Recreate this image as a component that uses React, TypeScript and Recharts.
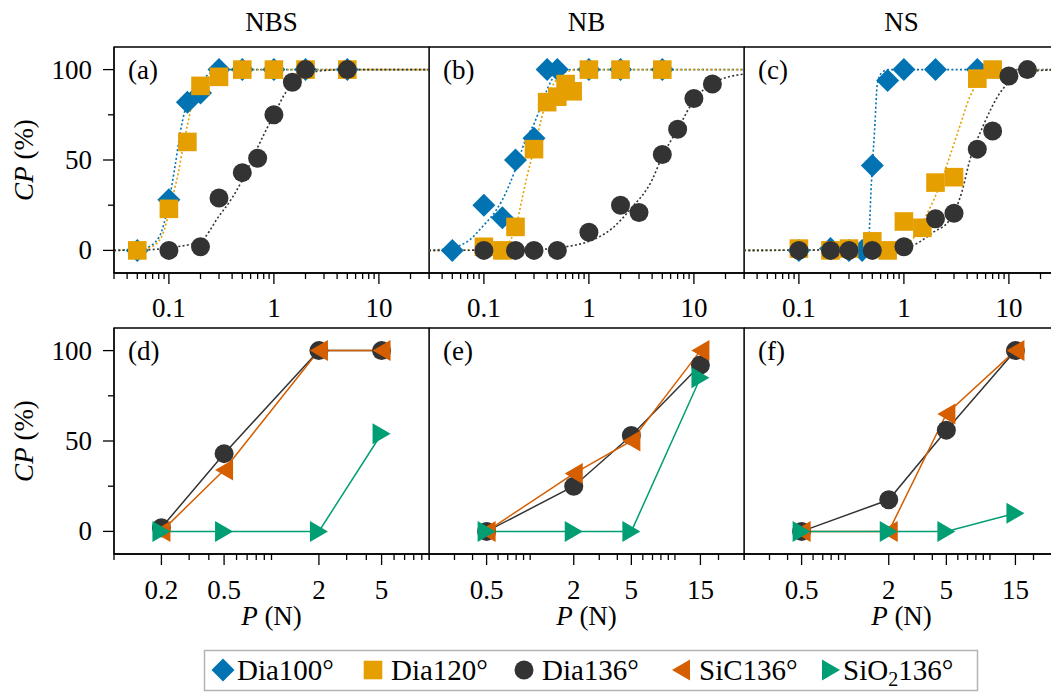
import React from 'react';
import { ComposedChart, Line, Scatter, XAxis, YAxis, ReferenceArea } from 'recharts';

const FONT = '"Liberation Serif", "Times New Roman", Times, serif';
const BLUE = '#0173b2';
const ORANGE = '#e69f00';
const DARK = '#333333';
const VERMIL = '#d55e00';
const TEAL = '#029e73';

// (a) NBS, top row
const nbsDia100P = [0.05, 0.1, 0.15, 0.2, 0.3, 0.5, 1, 2, 5];
const nbsDia100CP = [0, 28, 82, 87, 100, 100, 100, 100, 100];
const nbsDia120P = [0.05, 0.1, 0.15, 0.2, 0.3, 0.5, 1, 2, 5];
const nbsDia120CP = [0, 23, 60, 91, 96, 100, 100, 100, 100];
const nbsDia136P = [0.1, 0.2, 0.3, 0.5, 0.7, 1, 1.5, 2, 5];
const nbsDia136CP = [0, 2, 29, 43, 51, 75, 93, 100, 100];
const nbsFit100P = [0.03, 0.06, 0.08, 0.09, 0.1, 0.114, 0.128, 0.143, 0.16, 0.184, 0.21, 0.246, 0.35, 30];
const nbsFit100CP = [0, 1.5, 7, 15, 27, 46, 65, 78, 85, 90, 94, 98, 100, 100];
const nbsFit120P = [0.03, 0.06, 0.08, 0.09, 0.1, 0.11, 0.123, 0.137, 0.15, 0.171, 0.2, 0.229, 0.31, 0.5, 30];
const nbsFit120CP = [0, 1, 5, 11, 21, 31, 43, 58, 69, 84, 91, 95, 99, 100, 100];
const nbsFit136P = [0.03, 0.07, 0.1, 0.15, 0.2, 0.3, 0.4, 0.5, 0.7, 0.85, 1, 1.32, 1.6, 2, 3, 5, 30];
const nbsFit136CP = [0, 0.5, 1.5, 3, 5, 19, 29, 39, 57, 67, 75, 88, 93, 97, 99.5, 100, 100];

// (b) NB, top row
const nbDia100P = [0.05, 0.1, 0.15, 0.2, 0.3, 0.4, 0.5, 1, 2, 5];
const nbDia100CP = [0, 25, 18, 50, 62, 100, 100, 100, 100, 100];
const nbDia120P = [0.1, 0.15, 0.2, 0.3, 0.4, 0.5, 0.6, 0.7, 1, 2, 5];
const nbDia120CP = [2, 0, 13, 56, 82, 85, 92, 88, 100, 100, 100];
const nbDia136P = [0.1, 0.2, 0.3, 0.5, 1, 2, 3, 5, 7, 10, 15];
const nbDia136CP = [0, 0, 0, 0, 10, 25, 21, 53, 67, 84, 92];
const nbFit100P = [0.03, 0.05, 0.07, 0.1, 0.13, 0.15, 0.2, 0.245, 0.3, 0.355, 0.4, 0.45, 0.55, 0.7, 30];
const nbFit100CP = [0, 1.5, 5, 14, 22, 28, 45, 60, 70, 81, 89, 95, 99, 100, 100];
const nbFit120P = [0.03, 0.1, 0.15, 0.18, 0.2, 0.23, 0.26, 0.3, 0.35, 0.4, 0.5, 0.6, 0.8, 30];
const nbFit120CP = [0, 0.3, 2, 6, 12, 28, 42, 56, 72, 84, 95, 98.5, 100, 100];
const nbFit136P = [0.03, 0.3, 0.6, 1, 1.65, 2.5, 4, 5, 7, 10, 15, 20, 30];
const nbFit136CP = [0, 0.5, 2, 5, 12, 23, 39, 52, 67, 83, 92.5, 95.5, 97.5];

// (c) NS, top row
const nsDia100P = [0.1, 0.2, 0.3, 0.4, 0.5, 0.7, 1, 2, 5];
const nsDia100CP = [0, 1, 0, 0, 47, 94, 100, 100, 100];
const nsDia120P = [0.1, 0.2, 0.3, 0.5, 0.7, 1, 1.5, 2, 3, 5, 7];
const nsDia120CP = [1, 0, 1, 5, 0, 16, 12.5, 37.5, 40.5, 95, 100];
const nsDia136P = [0.1, 0.2, 0.3, 0.5, 1, 2, 3, 5, 7, 10, 15];
const nsDia136CP = [0, 0, 0, 0, 2, 17.5, 20.5, 56, 66, 96.5, 100];
const nsFit100P = [0.03, 0.4, 0.458, 0.49, 0.53, 0.558, 0.61, 0.71, 30];
const nsFit100CP = [0, 0.3, 4, 37, 70, 92, 98, 100, 100];
const nsFit120P = [0.03, 0.6, 0.9, 1.2, 1.65, 2.2, 2.56, 3.42, 4.25, 5.3, 6.6, 10, 30];
const nsFit120CP = [0, 0.3, 2, 6, 20, 36, 47, 69, 85, 94.5, 98, 99.7, 100];
const nsFit136P = [0.03, 0.5, 1, 1.23, 1.9, 2.74, 3.55, 4.25, 5.7, 8.2, 11.9, 19.8, 30];
const nsFit136CP = [0, 0.5, 2, 3, 10, 17, 32, 50, 69, 87, 96, 99.5, 100];

// bottom row, (d) NBS / (e) NB / (f) NS
const nbsLoads = [0.2, 0.5, 2, 5];
const nbsDia136 = [2, 43, 100, 100];
const nbsSiC136 = [0, 34, 100, 100];
const nbsSiO2136 = [0, 0, 0, 54];
const nbLoads = [0.5, 2, 5, 15];
const nbDia136 = [0, 25, 53, 92];
const nbSiC136 = [0, 32, 50, 100];
const nbSiO2136 = [0, 0, 0, 85];
const nsLoads = [0.5, 2, 5, 15];
const nsDia136 = [0, 17.5, 56, 100];
const nsSiC136 = [0, 0, 65, 100];
const nsSiO2136 = [0, 0, 0, 10];

// ticks
const topMajor = [0.1, 1, 10];
const topMinor = [0.03, 0.04, 0.05, 0.06, 0.07, 0.08, 0.09, 0.2, 0.3, 0.4, 0.5, 0.6, 0.7, 0.8, 0.9, 2, 3, 4, 5, 6, 7, 8, 9, 20, 30];
const nbsMajor = [0.2, 0.5, 2, 5];
const nbsMinor = [0.1, 0.3, 0.4, 0.6, 0.7, 0.8, 0.9, 1, 3, 4, 6, 7, 8, 9, 10];
const nbMajor = [0.5, 2, 5, 15];
const nbMinor = [0.2, 0.3, 0.4, 0.6, 0.7, 0.8, 0.9, 1, 3, 4, 6, 7, 8, 9, 10, 20, 30];
const yTicks = [0, 25, 50, 75, 100];
const yMajor = [0, 50, 100];

const titles = ['NBS', 'NB', 'NS'];
const lettersTop = ['(a)', '(b)', '(c)'];
const lettersBottom = ['(d)', '(e)', '(f)'];

const PLOT_LEFT = [114, 429, 744];
const PW = 315;
const PH = 226;
const Y_DOMAIN: [number, number] = [-12.5, 112.5];

const pts = (xs: number[], ys: number[]) => xs.map((x, i) => ({ x, y: ys[i] }));

function marker(kind: string, cx: number, cy: number, key?: React.Key) {
  if (cx == null || cy == null) return <g key={key} />;
  switch (kind) {
    case 'diamond':
      return <polygon key={key} points={`${cx},${cy - 11.5} ${cx + 11.5},${cy} ${cx},${cy + 11.5} ${cx - 11.5},${cy}`} fill={BLUE} />;
    case 'square':
      return <rect key={key} x={cx - 9.3} y={cy - 9.3} width={18.6} height={18.6} fill={ORANGE} />;
    case 'circle':
      return <circle key={key} cx={cx} cy={cy} r={9.5} fill={DARK} />;
    case 'left':
      return <polygon key={key} points={`${cx - 9},${cy} ${cx + 9},${cy - 10.5} ${cx + 9},${cy + 10.5}`} fill={VERMIL} />;
    default:
      return <polygon key={key} points={`${cx + 9},${cy} ${cx - 9},${cy - 10.5} ${cx - 9},${cy + 10.5}`} fill={TEAL} />;
  }
}

const xTick = (major: number[], dy: number) => (props: any) => {
  const { x, y, payload } = props;
  const isMajor = major.includes(payload.value);
  return (
    <g>
      <line x1={x} x2={x} y1={y} y2={y + (isMajor ? 11 : 6)} stroke="#000" strokeWidth={1.3} />
      {isMajor && (
        <text x={x} y={y + dy} textAnchor="middle" fontSize={27} fontFamily={FONT} fill="#000">
          {String(payload.value)}
        </text>
      )}
    </g>
  );
};

const yTick = (props: any) => {
  const { x, y, payload } = props;
  const isMajor = yMajor.includes(payload.value);
  return (
    <g>
      <line x1={x} x2={x - (isMajor ? 11 : 6)} y1={y} y2={y} stroke="#000" strokeWidth={1.3} />
      {isMajor && (
        <text x={x - 22} y={y + 9} textAnchor="end" fontSize={27} fontFamily={FONT} fill="#000">
          {payload.value}
        </text>
      )}
    </g>
  );
};

function Panel({ col, row, domain, major, minor, children }: {
  col: number; row: number; domain: [number, number]; major: number[]; minor: number[]; children: React.ReactNode;
}) {
  const showY = col === 0;
  const yW = showY ? PLOT_LEFT[0] : 0;
  const mTop = row === 0 ? 47 : 8;
  const axisH = row === 0 ? 60 : 80;
  const labelDy = row === 0 ? 44 : 45;
  const ticks = [...major, ...minor].sort((a, b) => a - b);
  return (
    <div style={{ position: 'absolute', left: PLOT_LEFT[col] - yW, top: row === 0 ? 0 : 320 }}>
      <ComposedChart width={yW + PW + 2} height={mTop + PH + axisH} margin={{ top: mTop, right: 2, bottom: 0, left: 0 }}>
        <XAxis dataKey="x" type="number" scale="log" domain={domain} allowDataOverflow ticks={ticks} interval={0}
          tickSize={0} tickMargin={0} tickLine={false} axisLine={{ stroke: '#000', strokeWidth: 1.3 }}
          height={axisH} tick={xTick(major, labelDy)} />
        <YAxis dataKey="y" type="number" domain={Y_DOMAIN} allowDataOverflow hide={!showY} width={yW}
          ticks={yTicks} interval={0} tickSize={0} tickMargin={0} tickLine={false}
          axisLine={{ stroke: '#000', strokeWidth: 1.3 }} tick={yTick} />
        <ReferenceArea x1={domain[0]} x2={domain[1]} y1={Y_DOMAIN[0]} y2={Y_DOMAIN[1]} fill="none" fillOpacity={0}
          stroke="#000" strokeWidth={1.3} ifOverflow="visible" />
        {children}
      </ComposedChart>
    </div>
  );
}

function fit(xs: number[], ys: number[], color: string) {
  return (
    <Line data={pts(xs, ys)} dataKey="y" type="monotone" stroke={color} strokeWidth={1.6}
      strokeDasharray="2 2.3" dot={false} activeDot={false} isAnimationActive={false} />
  );
}

function scatter(xs: number[], ys: number[], kind: string) {
  return (
    <Scatter data={pts(xs, ys)} dataKey="y" shape={(p: any) => marker(kind, p.cx, p.cy)} isAnimationActive={false} />
  );
}

function series(xs: number[], ys: number[], kind: string, color: string) {
  return (
    <Line data={pts(xs, ys)} dataKey="y" type="linear" stroke={color} strokeWidth={1.5}
      dot={(p: any) => marker(kind, p.cx, p.cy, p.index)} activeDot={false} isAnimationActive={false} />
  );
}

function Overlay() {
  const txt = { fontFamily: FONT, fontSize: 27, fill: '#000' };
  const legendItems = [
    { kind: 'diamond', mx: 223, tx: 237, label: 'Dia100°' },
    { kind: 'square', mx: 373, tx: 391, label: 'Dia120°' },
    { kind: 'circle', mx: 524, tx: 542, label: 'Dia136°' },
    { kind: 'left', mx: 681, tx: 699, label: 'SiC136°' },
  ];
  return (
    <svg width={1051} height={692} style={{ position: 'absolute', left: 0, top: 0, pointerEvents: 'none' }}>
      {titles.map((t, i) => (
        <text key={t} x={PLOT_LEFT[i] + PW / 2} y={31} textAnchor="middle" {...txt}>{t}</text>
      ))}
      {lettersTop.map((t, i) => (
        <text key={t} x={PLOT_LEFT[i] + 14} y={79} {...txt}>{t}</text>
      ))}
      {lettersBottom.map((t, i) => (
        <text key={t} x={PLOT_LEFT[i] + 14} y={360} {...txt}>{t}</text>
      ))}
      {[160, 441].map((cy) => (
        <text key={cy} x={33} y={cy} textAnchor="middle" transform={`rotate(-90, 33, ${cy})`} {...txt}>
          <tspan fontStyle="italic">CP</tspan> (%)
        </text>
      ))}
      {PLOT_LEFT.map((l) => (
        <text key={l} x={l + PW / 2} y={625} textAnchor="middle" {...txt}>
          <tspan fontStyle="italic">P</tspan> (N)
        </text>
      ))}
      <rect x={204.5} y={650.5} width={773} height={40} fill="#fff" stroke="#b3b3b3" strokeWidth={1.5} />
      {legendItems.map((it) => (
        <g key={it.label}>
          {marker(it.kind, it.mx, 670)}
          <text x={it.tx} y={680} {...txt} fontSize={29}>{it.label}</text>
        </g>
      ))}
      {marker('right', 831, 670)}
      <text x={843} y={680} {...txt} fontSize={29}>
        SiO<tspan fontSize={20} dy={6}>2</tspan><tspan dy={-6}>136°</tspan>
      </text>
    </svg>
  );
}

export default function App() {
  return (
    <div style={{ position: 'absolute', left: 0, top: 0, width: 1051, height: 692, overflow: 'hidden', background: '#fff', fontFamily: FONT }}>
      <Panel col={0} row={0} domain={[0.03, 30]} major={topMajor} minor={topMinor}>
        {fit(nbsFit100P, nbsFit100CP, BLUE)}
        {fit(nbsFit120P, nbsFit120CP, ORANGE)}
        {fit(nbsFit136P, nbsFit136CP, DARK)}
        {scatter(nbsDia100P, nbsDia100CP, 'diamond')}
        {scatter(nbsDia120P, nbsDia120CP, 'square')}
        {scatter(nbsDia136P, nbsDia136CP, 'circle')}
      </Panel>
      <Panel col={1} row={0} domain={[0.03, 30]} major={topMajor} minor={topMinor}>
        {fit(nbFit100P, nbFit100CP, BLUE)}
        {fit(nbFit120P, nbFit120CP, ORANGE)}
        {fit(nbFit136P, nbFit136CP, DARK)}
        {scatter(nbDia100P, nbDia100CP, 'diamond')}
        {scatter(nbDia120P, nbDia120CP, 'square')}
        {scatter(nbDia136P, nbDia136CP, 'circle')}
      </Panel>
      <Panel col={2} row={0} domain={[0.03, 30]} major={topMajor} minor={topMinor}>
        {fit(nsFit100P, nsFit100CP, BLUE)}
        {fit(nsFit120P, nsFit120CP, ORANGE)}
        {fit(nsFit136P, nsFit136CP, DARK)}
        {scatter(nsDia100P, nsDia100CP, 'diamond')}
        {scatter(nsDia120P, nsDia120CP, 'square')}
        {scatter(nsDia136P, nsDia136CP, 'circle')}
      </Panel>
      <Panel col={0} row={1} domain={[0.1, 10]} major={nbsMajor} minor={nbsMinor}>
        {series(nbsLoads, nbsDia136, 'circle', DARK)}
        {series(nbsLoads, nbsSiC136, 'left', VERMIL)}
        {series(nbsLoads, nbsSiO2136, 'right', TEAL)}
      </Panel>
      <Panel col={1} row={1} domain={[0.2, 30]} major={nbMajor} minor={nbMinor}>
        {series(nbLoads, nbDia136, 'circle', DARK)}
        {series(nbLoads, nbSiC136, 'left', VERMIL)}
        {series(nbLoads, nbSiO2136, 'right', TEAL)}
      </Panel>
      <Panel col={2} row={1} domain={[0.2, 30]} major={nbMajor} minor={nbMinor}>
        {series(nsLoads, nsDia136, 'circle', DARK)}
        {series(nsLoads, nsSiC136, 'left', VERMIL)}
        {series(nsLoads, nsSiO2136, 'right', TEAL)}
      </Panel>
      <Overlay />
    </div>
  );
}
